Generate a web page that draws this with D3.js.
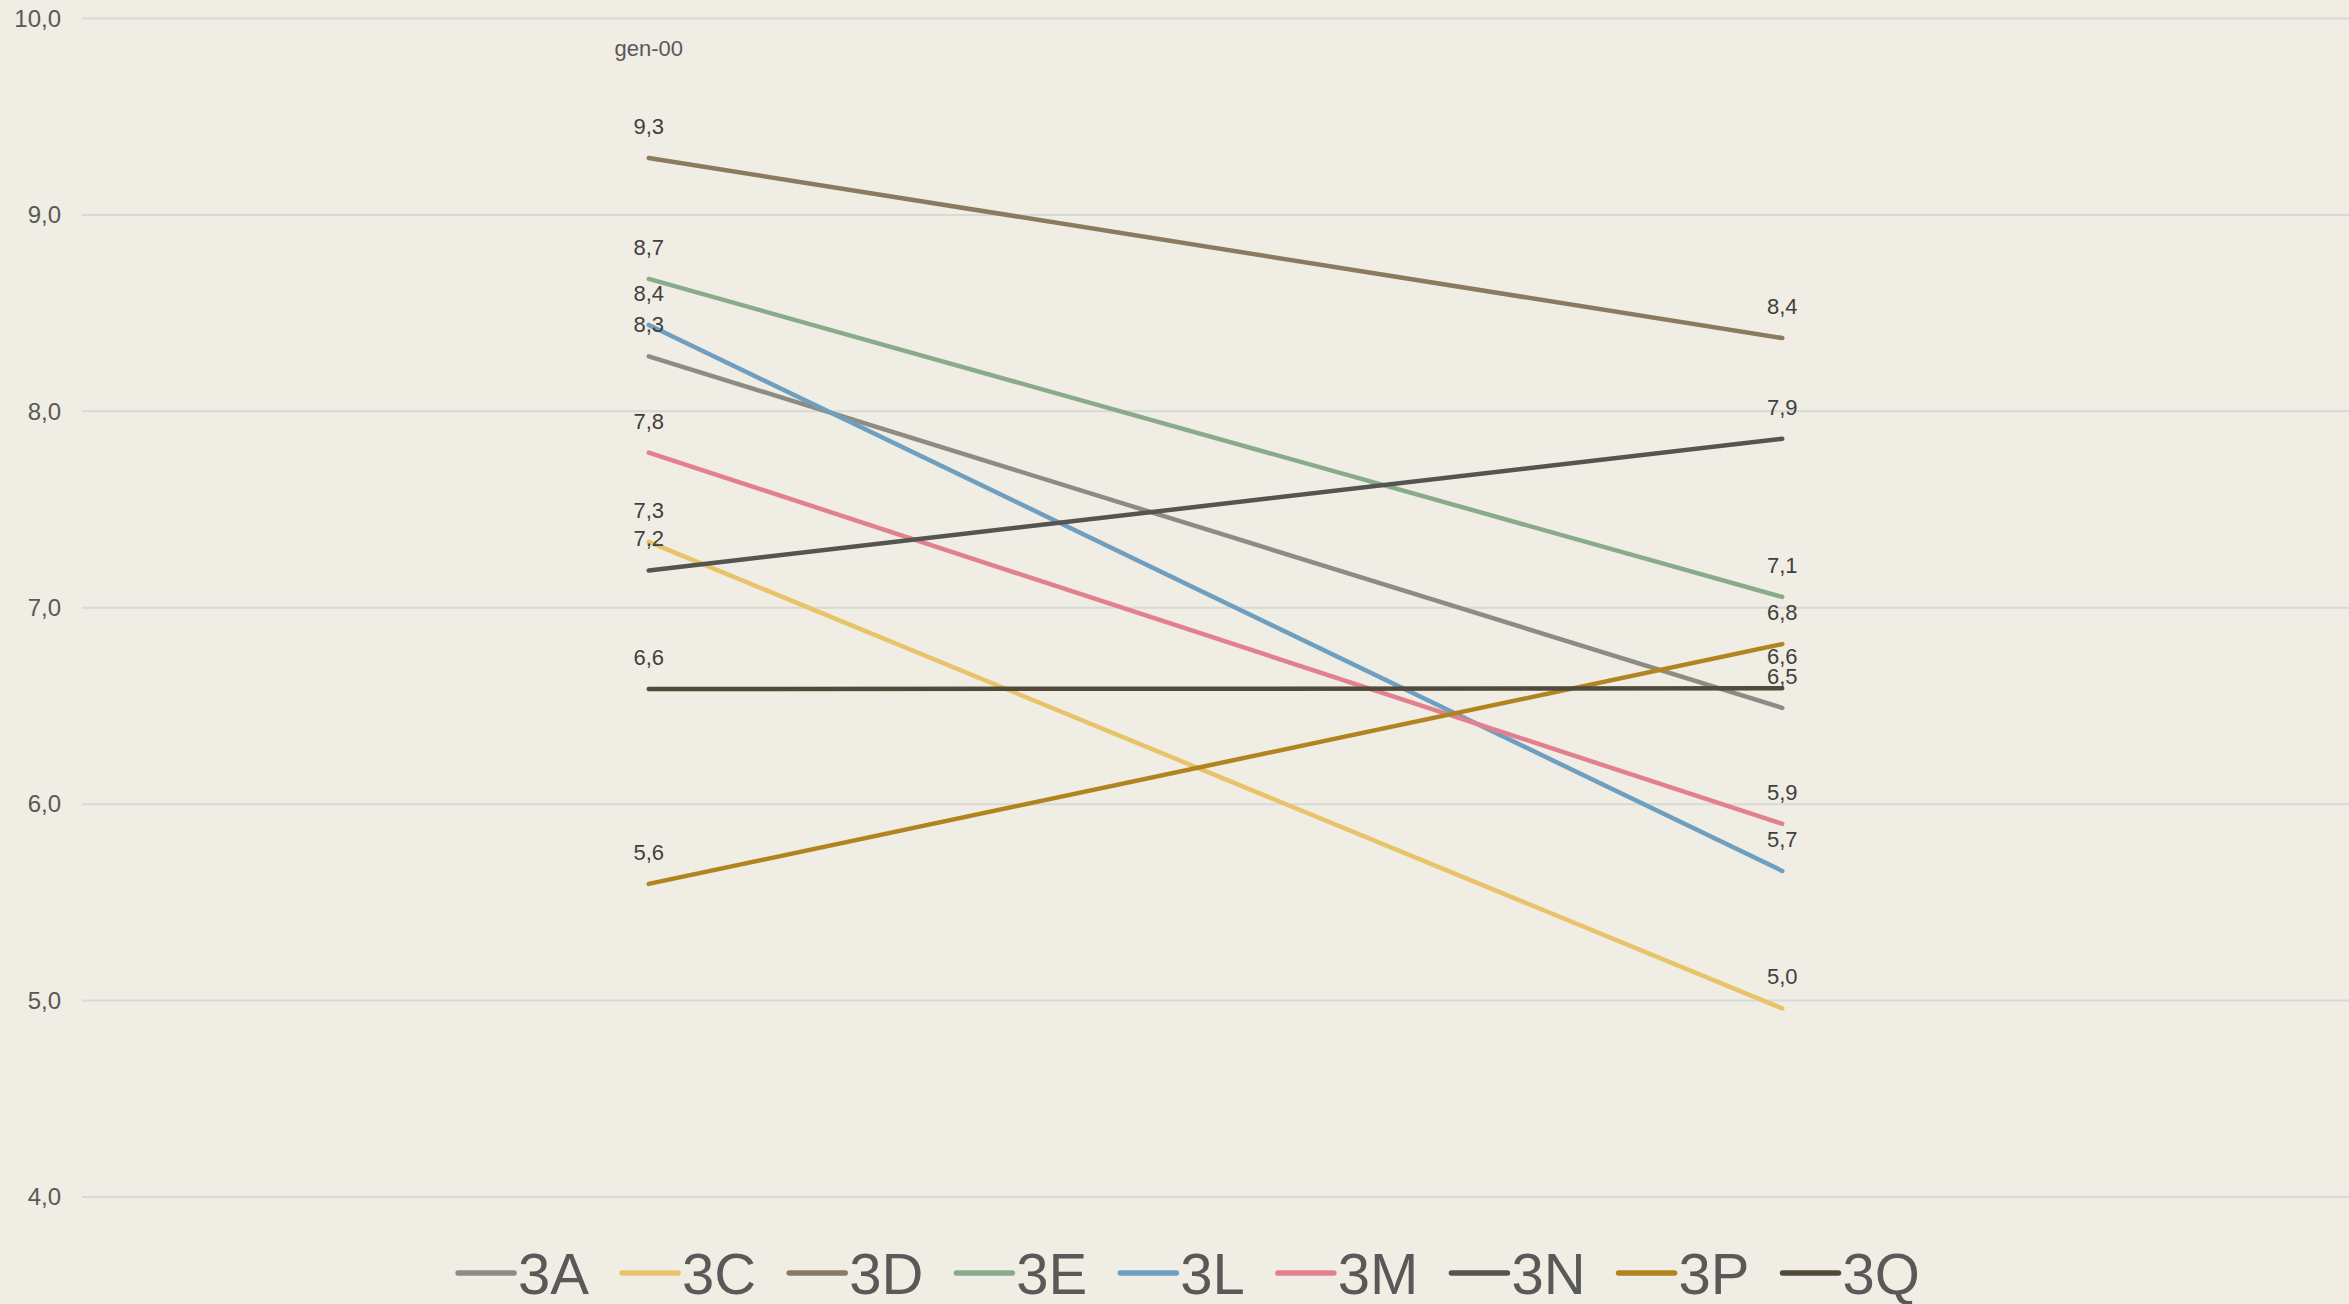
<!DOCTYPE html>
<html>
<head>
<meta charset="utf-8">
<script src="https://cdn.jsdelivr.net/npm/d3@7"></script>
<style>
  html, body { margin: 0; padding: 0; background: #f0ede4; }
  svg { display: block; }
  text { font-family: "Liberation Sans", Arial, sans-serif; }
</style>
</head>
<body>
<svg id="chart" width="2349" height="1304"></svg>
<script>
// ---- data ----
const categories = ["gen-00", ""];
const seriesNames = ["3A", "3C", "3D", "3E", "3L", "3M", "3N", "3P", "3Q"];
const seriesColors = ["#8c8c85", "#e8c36a", "#8a7a5f", "#8aab8b", "#6f9fc0", "#e3808f", "#545450", "#b0841f", "#514a3b"];
const values3A = [8.28, 6.49];
const values3C = [7.335, 4.96];
const values3D = [9.29, 8.373];
const values3E = [8.674, 7.055];
const values3L = [8.44, 5.66];
const values3M = [7.79, 5.90];
const values3N = [7.19, 7.86];
const values3P = [5.594, 6.815];
const values3Q = [6.586, 6.59];
const yTicks = [4, 5, 6, 7, 8, 9, 10];

const seriesValues = [values3A, values3C, values3D, values3E, values3L, values3M, values3N, values3P, values3Q];
const series = seriesNames.map((n, i) => ({ name: n, color: seriesColors[i], values: seriesValues[i] }));

// ---- layout ----
const W = 2349, H = 1304;
const plotLeft = 82, plotRight = 2349, plotTop = 18.5, plotBottom = 1197;
const svg = d3.select("#chart");
svg.append("rect").attr("width", W).attr("height", H).attr("fill", "#f0ede4");

const x = d3.scalePoint().domain(categories.map((c, i) => i)).range([plotLeft, plotRight]).padding(0.5);
const y = d3.scaleLinear().domain([4, 10]).range([plotBottom, plotTop]);

// gridlines
svg.append("g").selectAll("line").data(yTicks).join("line")
  .attr("x1", plotLeft).attr("x2", plotRight)
  .attr("y1", d => y(d)).attr("y2", d => y(d))
  .attr("stroke", "#d9d9d6").attr("stroke-width", 2);

// y axis labels
const fmt = d => d3.format(".1f")(d).replace(".", ",");
const yAxis = d3.axisLeft(y).tickValues(yTicks).tickSize(0).tickPadding(0).tickFormat(fmt);
const gy = svg.append("g").attr("transform", `translate(61,0)`).call(yAxis);
gy.select(".domain").remove();
gy.selectAll("text").attr("font-size", 24).attr("fill", "#595959")
  .attr("font-family", "'Liberation Sans', Arial, sans-serif").attr("dy", "0.32em");

// category label(s) at top
svg.append("g").selectAll("text").data(categories).join("text")
  .attr("x", (d, i) => x(i)).attr("y", 56)
  .attr("text-anchor", "middle").attr("font-size", 22).attr("fill", "#595959")
  .text(d => d);

// lines
const line = d3.line().x((d, i) => x(i)).y(d => y(d));
svg.append("g").selectAll("path").data(series).join("path")
  .attr("d", d => line(d.values))
  .attr("fill", "none").attr("stroke", d => d.color)
  .attr("stroke-width", 4.5).attr("stroke-linecap", "round");

// data labels
const lbl = svg.append("g");
series.forEach(s => {
  s.values.forEach((v, i) => {
    lbl.append("text")
      .attr("x", x(i)).attr("y", y(v) - 24)
      .attr("text-anchor", "middle").attr("font-size", 22).attr("fill", "#404040")
      .text(fmt(v));
  });
});

// legend
const leg = svg.append("g");
const legY = 1273;
let cx = 0;
const items = [];
series.forEach(s => {
  const g = leg.append("g");
  g.append("line").attr("x1", cx).attr("x2", cx + 56).attr("y1", legY).attr("y2", legY)
    .attr("stroke", s.color).attr("stroke-width", 5.5).attr("stroke-linecap", "round");
  const t = g.append("text").attr("x", cx + 60).attr("y", 1294)
    .attr("font-size", 58).attr("fill", "#595959").text(s.name);
  const w = t.node().getComputedTextLength();
  cx += 60 + w + 33;
});
const totalW = cx - 33;
leg.attr("transform", `translate(${1189 - totalW / 2},0)`);
</script>
</body>
</html>
